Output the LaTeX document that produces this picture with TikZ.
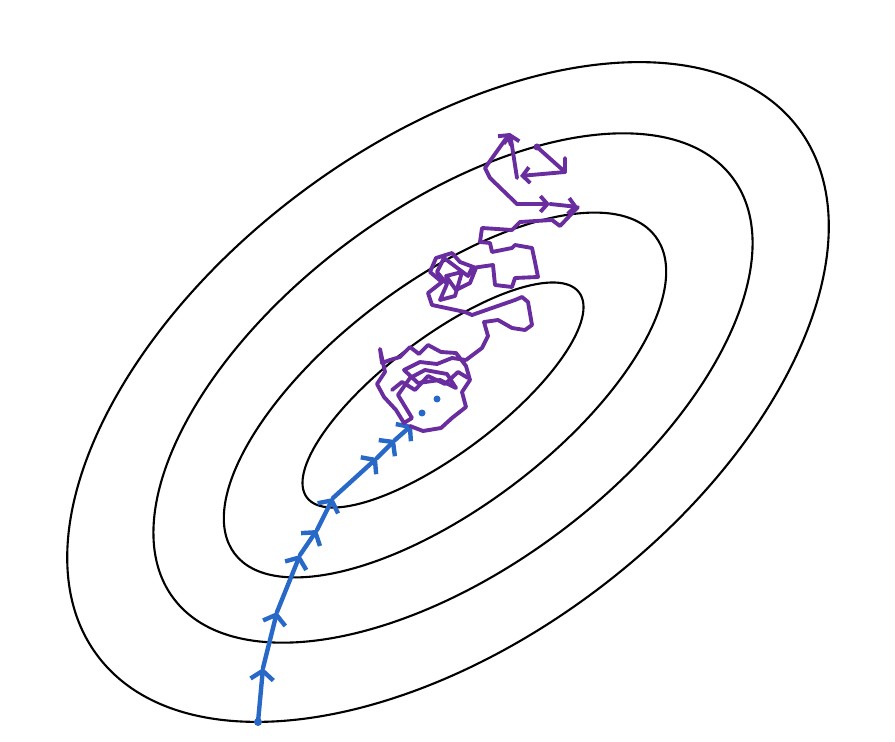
\documentclass[tikz,border=0pt]{standalone}
\usetikzlibrary{arrows.meta}
\definecolor{gdblue}{RGB}{40,105,200}
\definecolor{sgdpurple}{RGB}{105,45,160}

\begin{document}
\begin{tikzpicture}[x=0.02cm, y=-0.02cm,
    contour/.style={black, line width=1.2pt},
    gdpath/.style={gdblue, line width=2.5pt, line cap=round,
      -{Straight Barb[length=5pt, width=13pt]}},
    sgdpath/.style={sgdpurple, line width=2.2pt, line join=round, line cap=round},
    sgdtip/.style={sgdpath, -{Straight Barb[length=4pt, width=9pt]}}]
  \useasboundingbox (0,0) rectangle (895,742);
  % Contours of the cost
  \foreach \cx/\cy/\a/\b in {448/392/438.6/247.7, 453/388/349.8/179.4,
                             445/395/263.5/112.8, 443/395/170.4/57.9} {
    \draw[contour, rotate around={37:(\cx,\cy)}] (\cx,\cy)
      ellipse [x radius=\a, y radius=\b];
  }
  % Batch gradient descent: one step per arrow
  \coordinate (b0) at (258,722);
  \coordinate (b1) at (263,668);
  \coordinate (b2) at (277,612);
  \coordinate (b3) at (300,555);
  \coordinate (b4) at (317,530);
  \coordinate (b5) at (333,498);
  \coordinate (b6) at (377,458);
  \coordinate (b7) at (395,440);
  \coordinate (b8) at (412,425);
  \foreach \i in {1,...,8} {
    \pgfmathtruncatemacro{\j}{\i-1}
    \draw[gdpath] (b\j) -- (b\i);
  }
  \fill[gdblue] (b0) circle (4);
  \coordinate (d1) at (422,413);
  \coordinate (d2) at (437,399);
  \fill[gdblue] (d1) circle (3.5);
  \fill[gdblue] (d2) circle (3.5);
  % Stochastic gradient descent: noisy walk
  % knot near the minimum
  \draw[sgdpath] plot coordinates {(410,426) (423,431) (441,428) (452,418)
    (466,407) (462,392) (470,380) (466,366) (456,353) (441,352) (428,345)
    (419,354) (410,347) (400,357) (390,360) (382,363) (380,349) (385,372)
    (377,384) (384,397) (396,410) (404,423) (412,418) (398,395) (410,378)
    (425,370) (447,374) (456,388) (440,380) (418,383) (404,370) (420,362)
    (437,364) (452,358) (466,360)};
  \draw[sgdpath] plot coordinates {(392,390) (402,382) (415,390) (428,376)
    (445,384) (458,372) (468,378)};
  % rising to the second knot
  \draw[sgdpath] plot coordinates {(466,360) (482,348) (488,336) (484,322)
    (498,320) (512,328) (525,330) (532,325) (528,302) (522,297) (515,300)
    (492,308) (472,315) (465,312) (432,305)};
  % second knot and on up
  \draw[sgdpath] plot coordinates {(432,305) (428,293) (442,282) (430,272)
    (436,258) (452,253) (460,262) (476,268) (470,283) (456,290) (446,276)
    (462,272) (455,296) (440,300) (447,284) (437,272) (444,258) (468,276)
    (472,268) (493,265) (495,285) (512,287) (515,278) (538,277) (535,262)
    (532,248) (515,245) (512,248) (492,252) (490,243) (480,242) (482,228)
    (512,230) (520,222) (552,220) (560,226) (578,207)};
  % top: the last steps
  \draw[sgdtip] (485,168) -- (510,133);
  \draw[sgdtip] (517,178) -- (510,133);
  \draw[sgdpath] (485,168) -- (490,178) -- (517,204);
  \draw[sgdtip] (517,204) -- (550,204);
  \draw[sgdtip] (550,204) -- (578,207);
  \draw[sgdpath] (537,147) -- (565,172) -- (565,158);
  \draw[sgdtip] (565,172) -- (520,176);
  \fill[sgdpurple] (537,147) circle (3.5);
\end{tikzpicture}
\end{document}
